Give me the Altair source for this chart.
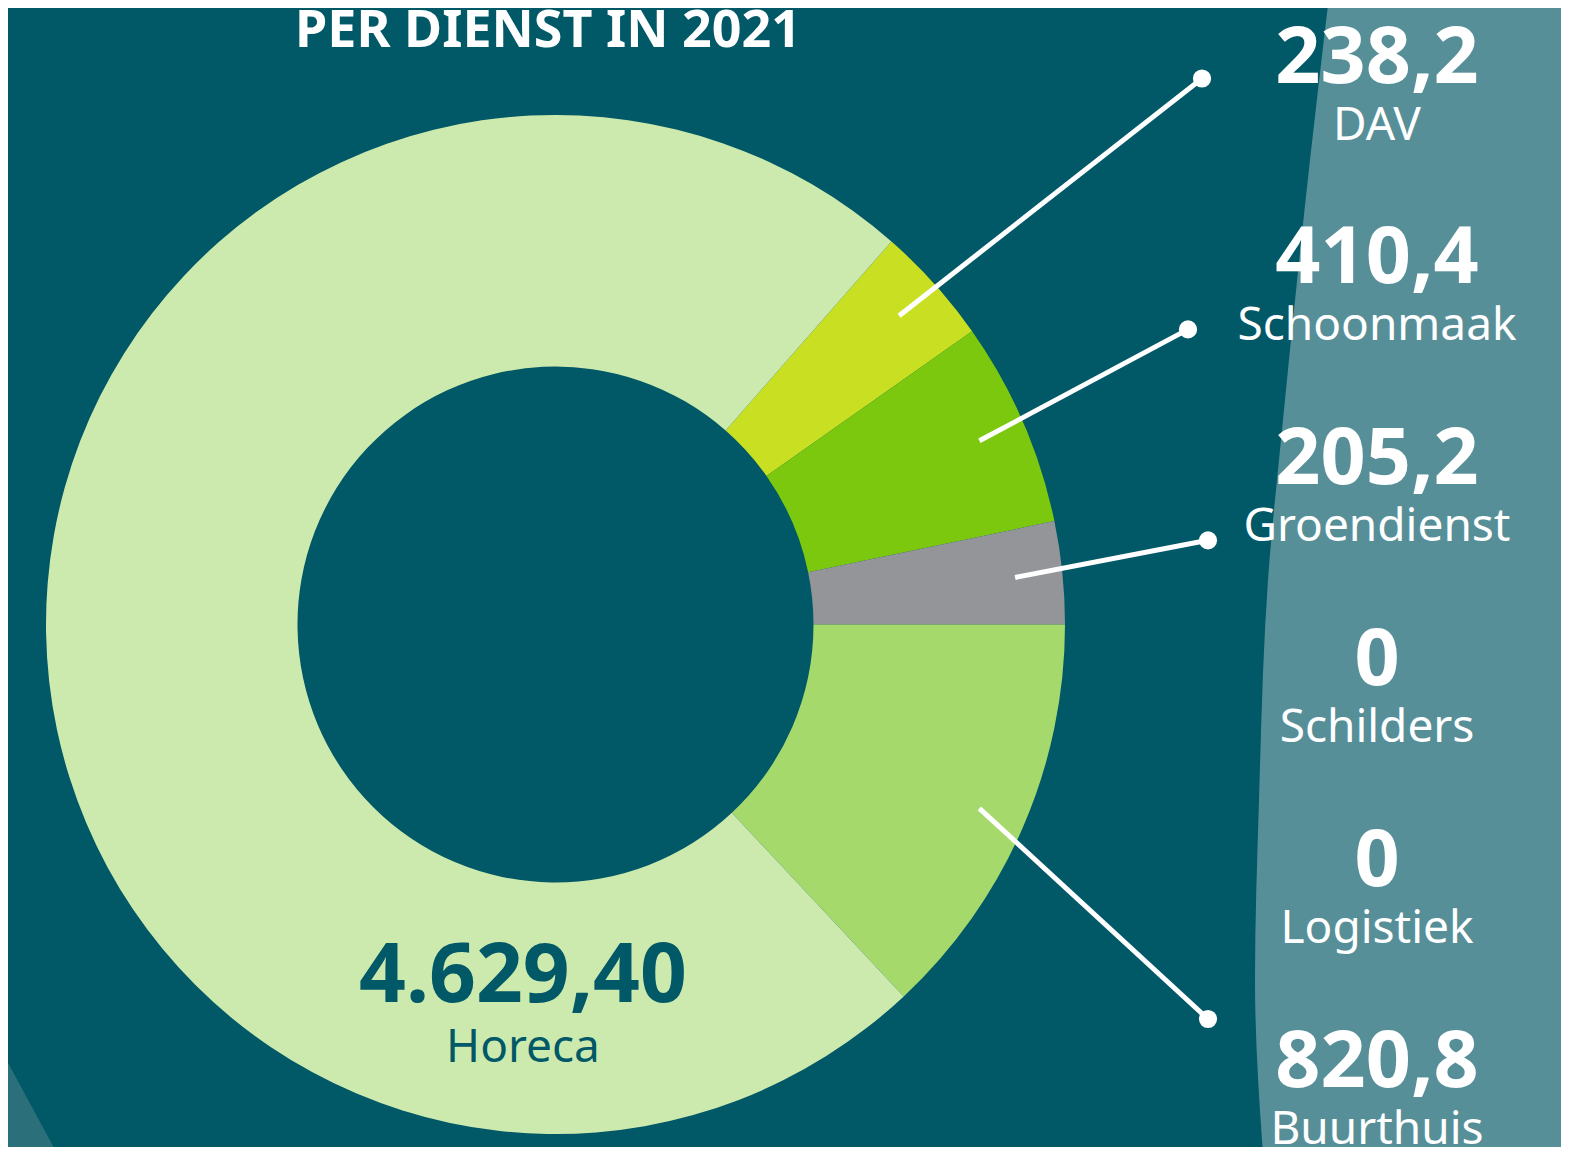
import altair as alt
import pandas as pd

# ---------------- data ----------------
categories = ["DAV", "Schoonmaak", "Groendienst", "Schilders", "Logistiek", "Buurthuis", "Horeca"]
hours = [238.2, 410.4, 205.2, 0, 0, 820.8, 4629.40]
value_labels = ["238,2", "410,4", "205,2", "0", "0", "820,8", "4.629,40"]
title_text = "PER DIENST IN 2021"

# ---------------- style / layout ----------------
BG = "#015867"
BAND = "#578f99"
CORNER = "#2a6f79"
slice_colors = ["#c8df22", "#7bc80f", "#949598", "#5f9e3a", "#3f8f6b", "#a5d96b", "#cdeaae"]

W, H = 1553, 1139
CX, CY = 547.5, 616.5
R_OUT, R_IN = 509.5, 258
R_LEAD = 462
START = 0.72  # radians, clockwise from 12 o'clock

LABEL_X = 1369
BASE0, STEP = 74.5, 200.9
NAME_DY = 57

# leader end (x in px, dy relative to the label's number baseline)
leader_end_x = {"DAV": 1194, "Schoonmaak": 1180, "Groendienst": 1200, "Buurthuis": 1200}
leader_end_dy = {"DAV": -4, "Schoonmaak": 46, "Groendienst": 56, "Buurthuis": -68}

# decorative backdrop outline (lighter teal band on the right, corner wedge)
band_edge_y = [-20, 152, 412, 572, 792, 972, 1160]
band_edge_x = [1322, 1302, 1275, 1260, 1251, 1247, 1256]
corner_edge_y = [1040, 1160]
corner_edge_x = [-8, 57]

# ---------------- tables ----------------
df = pd.DataFrame({
    "category": categories,
    "hours": hours,
    "label": value_labels,
    "idx": list(range(len(categories))),
})
df["end_x"] = df["category"].map(leader_end_x)
df["end_dy"] = df["category"].map(leader_end_dy)

band_df = pd.DataFrame({"y": band_edge_y, "x": band_edge_x, "x2": [W + 20] * len(band_edge_y)})
corner_df = pd.DataFrame({"y": corner_edge_y, "x": corner_edge_x, "x2": [-20] * len(corner_edge_y)})

FONT = "Noto Sans"

band = alt.Chart(band_df).mark_area(orient="horizontal", interpolate="monotone", color=BAND).encode(
    y=alt.Y("y:Q", scale=None),
    x=alt.X("x:Q", scale=None),
    x2="x2:Q",
)
corner = alt.Chart(corner_df).mark_area(orient="horizontal", color=CORNER).encode(
    y=alt.Y("y:Q", scale=None),
    x=alt.X("x:Q", scale=None),
    x2="x2:Q",
)

base = alt.Chart(df)

arcs = base.mark_arc(outerRadius=R_OUT, innerRadius=R_IN).encode(
    theta=alt.Theta("hours:Q", stack=True,
                    scale=alt.Scale(range=[START, START + 2 * 3.141592653589793])),
    color=alt.Color("category:N", scale=alt.Scale(domain=categories, range=slice_colors), legend=None),
    order=alt.Order("idx:Q"),
    x=alt.value(CX),
    y=alt.value(CY),
)

lead_base = base.transform_window(
    cum="sum(hours)", sort=[alt.SortField("idx")], frame=[None, 0]
).transform_joinaggregate(
    total="sum(hours)"
).transform_filter(
    "isValid(datum.end_x) && datum.hours > 0"
).transform_calculate(
    ang=f"{START} + 2*PI*(datum.cum - datum.hours/2)/datum.total",
).transform_calculate(
    sx=f"{CX} + {R_LEAD}*sin(datum.ang)",
    sy=f"{CY} - {R_LEAD}*cos(datum.ang)",
    ex="datum.end_x",
    ey=f"{BASE0} + datum.idx*{STEP} + datum.end_dy",
)

leaders = lead_base.mark_rule(color="white", strokeWidth=5).encode(
    x=alt.X("sx:Q", scale=None),
    y=alt.Y("sy:Q", scale=None),
    x2="ex:Q",
    y2="ey:Q",
)
dots = lead_base.mark_circle(color="white", opacity=1, size=330).encode(
    x=alt.X("ex:Q", scale=None),
    y=alt.Y("ey:Q", scale=None),
)

label_base = base.transform_filter("datum.category != 'Horeca'").transform_calculate(
    ny=f"{BASE0} + datum.idx*{STEP}",
    cy=f"{BASE0} + datum.idx*{STEP} + {NAME_DY}",
)
num_text = label_base.mark_text(font=FONT, fontWeight="bold", fontSize=79, color="white",
                                align="center", baseline="alphabetic").encode(
    x=alt.value(LABEL_X),
    y=alt.Y("ny:Q", scale=None),
    text="label:N",
)
name_text = label_base.mark_text(font=FONT, fontSize=46, color="white",
                                 align="center", baseline="alphabetic").encode(
    x=alt.value(LABEL_X),
    y=alt.Y("cy:Q", scale=None),
    text="category:N",
)

horeca_base = base.transform_filter("datum.category == 'Horeca'")
horeca_num = horeca_base.mark_text(font=FONT, fontWeight="bold", fontSize=82, color=BG,
                                   align="center", baseline="alphabetic").encode(
    x=alt.value(515), y=alt.value(994), text="label:N")
horeca_name = horeca_base.mark_text(font=FONT, fontSize=46, color=BG,
                                    align="center", baseline="alphabetic").encode(
    x=alt.value(515), y=alt.value(1054), text="category:N")

title = alt.Chart(pd.DataFrame({"t": [title_text]})).mark_text(
    font=FONT, fontWeight="bold", fontSize=52, color="white", align="center", baseline="alphabetic"
).encode(x=alt.value(540), y=alt.value(39), text="t:N")

chart = alt.layer(
    band, corner, arcs, leaders, dots, num_text, name_text, horeca_num, horeca_name, title
).properties(
    width=W, height=H,
    autosize=alt.AutoSizeParams(type="none"),
    padding=0,
    background=BG,
).configure_view(stroke=None)

chart.save("out.html", embed_options={"renderer": "svg", "actions": False})
